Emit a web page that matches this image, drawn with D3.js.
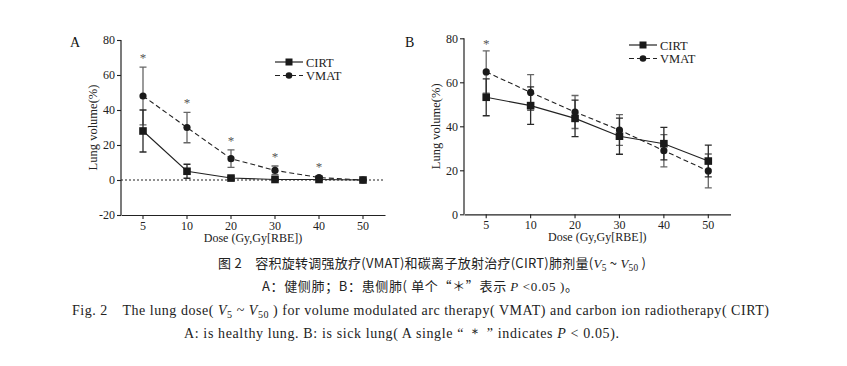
<!DOCTYPE html>
<html><head><meta charset="utf-8">
<script src="https://cdn.jsdelivr.net/npm/d3@7/dist/d3.min.js"></script>
<style>body{margin:0;background:#fff}svg{display:block}</style>
</head><body><svg id="c" width="847" height="366"></svg>
<script>
const categories = ["5","10","20","30","40","50"];
const seriesNames = ["CIRT","VMAT"];
// Panel A: healthy lung
const cirtA = [28, 5, 1.1, 0.3, 0.3, 0];
const cirtAErr = [12, 4, 0.8, 0.3, 0.3, 0];
const vmatA = [48, 30, 12.2, 5.5, 1.4, 0];
const vmatAErr = [16.5, 8.7, 5, 2.5, 1, 0];
const sigA = [true, true, true, true, true, false];
const yTicksA = [-20, 0, 20, 40, 60, 80];
// Panel B: sick lung
const cirtB = [53.2, 49.4, 43.6, 35.5, 32.1, 24.2];
const cirtBErr = [8.4, 8.5, 8.3, 8.2, 7.4, 7.2];
const vmatB = [64.7, 55.4, 46.5, 38.3, 28.9, 19.7];
const vmatBErr = [9.6, 8.1, 7.5, 7, 7.3, 7.7];
const sigB = [true, false, false, false, false, false];
const yTicksB = [0, 20, 40, 60, 80];

const svg = d3.select("#c");
const serif = "'Liberation Serif','DejaVu Serif',serif";

function panel(o){
  const g = svg.append("g");
  const x = d3.scaleBand().domain(categories).range([o.left, o.right]).padding(0);
  const cx = d => x(d) + x.bandwidth()/2;
  const y = d3.scaleLinear().domain(o.domain).range([o.bottom, o.top]);

  const ya = g.append("g").attr("transform",`translate(${o.left},0)`)
    .call(d3.axisLeft(y).tickValues(o.ticks).tickSize(4).tickPadding(2).tickFormat(d=>String(d)));
  const xa = g.append("g").attr("transform",`translate(0,${o.bottom})`)
    .call(d3.axisBottom(x).tickSize(4).tickPadding(2).tickSizeOuter(0));
  [ya, xa].forEach(a=>{
    a.select(".domain").attr("stroke","#222").attr("stroke-width",1.2);
    a.selectAll(".tick line").attr("stroke","#222").attr("stroke-width",1.1);
    a.selectAll("text").attr("font-family",serif).attr("font-size",12).attr("fill","#222");
  });
  ya.select(".domain").attr("d",`M0,${o.top}V${o.bottom}`);

  if (o.domain[0] < 0) {
    g.append("line").attr("x1",o.left).attr("x2",o.right).attr("y1",y(0)).attr("y2",y(0))
      .attr("stroke","#222").attr("stroke-width",1).attr("stroke-dasharray","2,2");
  }

  const series = [
    {name:seriesNames[0], v:o.cirt, e:o.cirtErr, dash:null, shape:"square", ecol:"#2a2a2a"},
    {name:seriesNames[1], v:o.vmat, e:o.vmatErr, dash:"5,3", shape:"circle", ecol:"#666"}
  ];
  const line = d3.line().x((d,i)=>cx(categories[i])).y(d=>y(d));
  series.slice().reverse().forEach(s=>{
    s.v.forEach((v,i)=>{
      if (!s.e[i]) return;
      const X = cx(categories[i]), t = y(v+s.e[i]), b = y(v-s.e[i]);
      g.append("path").attr("d",`M${X},${t}V${b}M${X-3.5},${t}H${X+3.5}M${X-3.5},${b}H${X+3.5}`)
        .attr("stroke",s.ecol).attr("stroke-width",1.3).attr("fill","none");
    });
  });
  series.forEach(s=>{
    g.append("path").datum(s.v).attr("d",line).attr("fill","none").attr("stroke","#222")
      .attr("stroke-width",1.1).attr("stroke-dasharray",s.dash);
    s.v.forEach((v,i)=>{
      const X = cx(categories[i]), Y = y(v);
      if (s.shape==="square") g.append("rect").attr("x",X-3.8).attr("y",Y-3.8).attr("width",7.6).attr("height",7.6).attr("fill","#1a1a1a");
      else g.append("circle").attr("cx",X).attr("cy",Y).attr("r",3.6).attr("fill","#1a1a1a");
    });
  });
  o.sig.forEach((s,i)=>{
    if (!s) return;
    const top = Math.max(o.cirt[i]+o.cirtErr[i], o.vmat[i]+o.vmatErr[i]);
    g.append("text").attr("x",cx(categories[i])).attr("y",y(top)-o.starGap)
      .attr("text-anchor","middle").attr("font-family",serif).attr("font-size",13).attr("fill","#555").text("*");
  });
  g.append("text").attr("transform",`translate(${o.ylabX},${(o.top+o.bottom)/2}) rotate(-90)`)
    .attr("text-anchor","middle").attr("font-family",serif).attr("font-size",12.5).attr("fill","#222").text("Lung volume(%)");
  g.append("text").attr("x",(o.left+o.right)/2).attr("y",o.bottom+27)
    .attr("text-anchor","middle").attr("font-family",serif).attr("font-size",12).attr("fill","#222").text("Dose (Gy,Gy[RBE])");
  g.append("text").attr("x",o.letterX).attr("y",47).attr("font-family",serif).attr("font-size",14).attr("fill","#111").text(o.letter);
  series.forEach((s,i)=>{
    const ly = o.legY + i*13.5;
    g.append("line").attr("x1",o.legX).attr("x2",o.legX+28).attr("y1",ly).attr("y2",ly)
      .attr("stroke","#222").attr("stroke-width",1.2).attr("stroke-dasharray",s.dash);
    const mx = o.legX+14;
    if (s.shape==="square") g.append("rect").attr("x",mx-3.5).attr("y",ly-3.5).attr("width",7).attr("height",7).attr("fill","#1a1a1a");
    else g.append("circle").attr("cx",mx).attr("cy",ly).attr("r",3.3).attr("fill","#1a1a1a");
    g.append("text").attr("x",o.legX+31).attr("y",ly+4.5).attr("font-family",serif).attr("font-size",12.5).attr("fill","#222").text(s.name);
  });
}

panel({left:121, right:385, top:40, bottom:215, domain:[-20,80], ticks:yTicksA,
  cirt:cirtA, cirtErr:cirtAErr, vmat:vmatA, vmatErr:vmatAErr, sig:sigA, starGap:5,
  ylabX:97, letter:"A", letterX:70, legX:275, legY:62});
panel({left:464, right:730.5, top:38.3, bottom:214.3, domain:[0,80], ticks:yTicksB,
  cirt:cirtB, cirtErr:cirtBErr, vmat:vmatB, vmatErr:vmatBErr, sig:sigB, starGap:3,
  ylabX:440, letter:"B", letterX:405, legX:629, legY:45});

// captions: parts are [text, style] where style: "i" italic, "s" subscript
const cap = svg.append("g").attr("font-family",serif).attr("fill","#222");
function rich(t, parts){
  let lowered = false;
  parts.forEach(([txt, st, fam])=>{
    const ts = t.append("tspan").text(txt);
    if (fam) ts.attr("font-family", fam);
    if (st === "s") { ts.attr("font-size","0.72em").attr("dy",3).attr("font-family",serif); lowered = true; }
    else {
      if (lowered) { ts.attr("dy",-3); lowered = false; }
      if (st === "i") ts.attr("font-style","italic").attr("font-family",serif);
    }
  });
}
const cjk = "'Noto Sans CJK SC','Liberation Serif',serif";
rich(cap.append("text").attr("x",218).attr("y",268).attr("font-size",13).attr("font-family",cjk)
  .attr("textLength",428).attr("lengthAdjust","spacing"),
  [["图 2　容积旋转调强放疗(VMAT)和碳离子放射治疗(CIRT)肺剂量("],["V","i"],["5","s"],[" ~ "],["V","i"],["50","s"],[" )"]]);
rich(cap.append("text").attr("x",262).attr("y",291).attr("font-size",13).attr("font-family",cjk)
  .attr("textLength",316).attr("lengthAdjust","spacing"),
  [["A：健侧肺；B：患侧肺( 单个“＊”表示 "],["P","i"],[" <0.05 )",null,serif],["。"]]);
rich(cap.append("text").attr("x",72).attr("y",315).attr("font-size",14)
  .attr("textLength",697).attr("lengthAdjust","spacing"),
  [["Fig. 2　The lung dose( "],["V","i"],["5","s"],[" ~ "],["V","i"],["50","s"],
   [" ) for volume modulated arc therapy( VMAT) and carbon ion radiotherapy( CIRT)"]]);
rich(cap.append("text").attr("x",184).attr("y",338).attr("font-size",14)
  .attr("textLength",435).attr("lengthAdjust","spacing"),
  [["A: is healthy lung. B: is sick lung( A single “ ＊ ” indicates "],["P","i"],[" <  0.05)."]]);
</script></body></html>
